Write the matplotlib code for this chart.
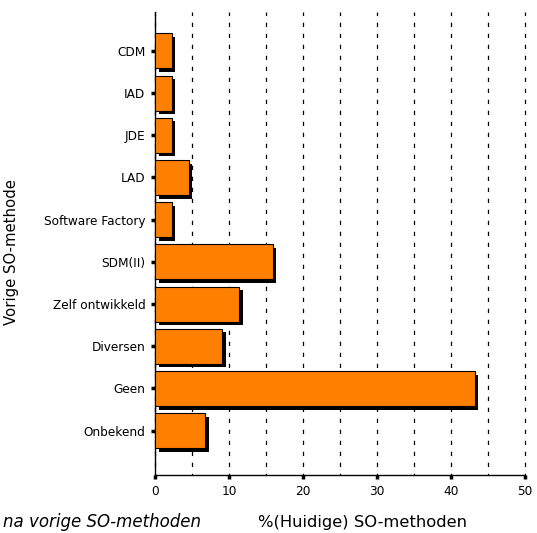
import matplotlib
matplotlib.use("Agg")
import matplotlib.pyplot as plt
import matplotlib.patheffects as pe
from matplotlib.ticker import MultipleLocator
import numpy as np

# categories from top to bottom
methods = ["CDM", "IAD", "JDE", "LAD", "Software Factory", "SDM(II)",
           "Zelf ontwikkeld", "Diversen", "Geen", "Onbekend"]
percent = [2.27, 2.27, 2.27, 4.55, 2.27, 15.91, 11.36, 9.09, 43.18, 6.82]

fig = plt.figure(figsize=(5.37, 5.33), dpi=100)
ax = fig.add_axes([155 / 537, 1 - 475 / 533, 370 / 537, 463 / 533])

ypos = np.arange(len(methods))[::-1]
shadow = [pe.SimplePatchShadow(offset=(2.6, -2.6), shadow_rgbFace="black", alpha=1.0), pe.Normal()]
bars = ax.barh(ypos, percent, height=0.83, color="#ff8000", edgecolor="black",
               linewidth=0.8, zorder=3)
for b in bars:
    b.set_path_effects(shadow)

ax.set_xlim(0, 50)
ax.set_ylim(-1.05, 9.92)
ax.xaxis.set_major_locator(MultipleLocator(10))
ax.xaxis.set_minor_locator(MultipleLocator(5))
ax.grid(axis="x", which="both", color="black", linewidth=0.9,
        linestyle=(2, (3.4, 5.4)), zorder=0)
for t in ax.xaxis.get_major_ticks() + ax.xaxis.get_minor_ticks():
    t.gridline.set_clip_on(False)
ax.set_yticks(ypos)
ax.set_yticklabels(methods, fontsize=8.7)
ax.tick_params(axis="x", which="major", length=3, width=2.5, labelsize=8.7, pad=4)
ax.tick_params(axis="x", which="minor", length=0)
ax.tick_params(axis="y", length=3, width=2.5, pad=4)

for side in ["top", "right"]:
    ax.spines[side].set_visible(False)
for side in ["left", "bottom"]:
    ax.spines[side].set_linewidth(1.0)

fig.text(12 / 537, 1 - 252 / 533, "Vorige SO-methode", rotation=90,
         ha="center", va="center", fontsize=10.7)
fig.text(362 / 537, 1 - 522 / 533, "%(Huidige) SO-methoden",
         ha="center", va="center", fontsize=11.8)
fig.text(3 / 537, 1 - 522 / 533, "na vorige SO-methoden",
         ha="left", va="center", fontsize=12, style="italic")

fig.savefig("out.png", dpi=100)
